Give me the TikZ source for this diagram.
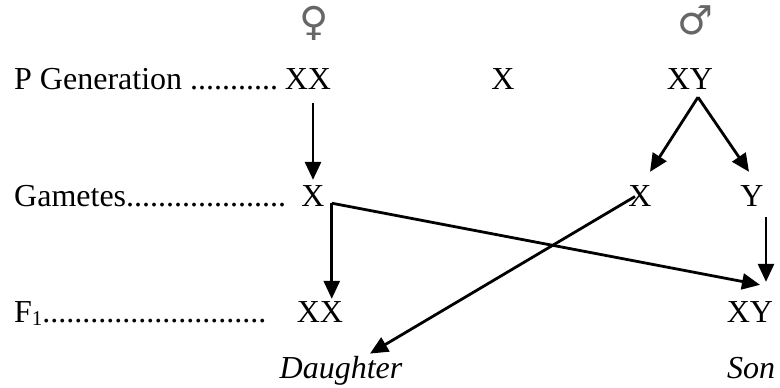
\documentclass[tikz,border=0pt]{standalone}
\usepackage{fontspec}
\setmainfont{Liberation Serif}
\newfontfamily\symfont{DejaVu Sans}
\usetikzlibrary{arrows.meta, calc}

\begin{document}
\begin{tikzpicture}[x=1pt, y=-1pt, >={Triangle[length=18pt, width=16pt]}, font=\fontsize{32}{38}\selectfont]
        \tikzstyle{gene} = [inner sep=0pt, anchor=base]
        \tikzstyle{rowlabel} = [inner sep=0pt, anchor=base west]
        \tikzstyle{sexsym} = [inner sep=0pt, text=black!60, font=\symfont\fontsize{40}{40}\selectfont]
        \tikzstyle{link} = [draw, ->, line width=2.8pt]
        \useasboundingbox (0,0) rectangle (780,388);

        % parents
        \node [sexsym] (femsym) at (314,23) {♀};
        \node [sexsym] (malesym) at (695,20) {♂};
        \node [rowlabel] (plabel) at (14,89) {P Generation ...........};
        \node [gene] (mom) at (308,89) {XX};
        \node [gene] (midx) at (503,89) {X};
        \node [gene] (dad) at (690,89) {XY};

        % gametes
        \node [rowlabel] (glabel) at (14,206) {Gametes....................};
        \node [gene] (gx) at (313,206) {X};
        \node [gene] (gmx) at (640,206) {X};
        \node [gene] (gmy) at (752,206) {Y};

        % offspring
        \node [rowlabel] (flabel) at (14,322) {F\raisebox{-0.25ex}{\fontsize{21}{21}\selectfont 1}............................};
        \node [gene] (dau) at (320,322) {XX};
        \node [gene] (son) at (750,322) {XY};
        \node [gene, font=\fontsize{32}{38}\selectfont\itshape] (daulabel) at (341,378) {Daughter};
        \node [gene, font=\fontsize{32}{38}\selectfont\itshape] (sonlabel) at (751,378) {Son};

        \coordinate (split) at ($(dad.south)+(8,8)$);
        \coordinate (fork) at ($(gx.south east)+(7,-3)$);
        \coordinate (ytop) at ($(gmy.south)+(14,11)$);

        \path [link, shorten <=14pt, shorten >=5pt] (gx.north |- mom.south) -- (gx.north);
        \path [link] (split) -- ($(gmx.north)+(10,-13)$);
        \path [link] (split) -- ($(gmy.north)+(-3,-13)$);
        \path [link, shorten >=2pt] (fork) -- (fork |- dau.north);
        \path [link] (fork) -- ($(son.north)+(10,-16)$);
        \path [link, shorten >=19pt] (ytop) -- (ytop |- son.north);
        \path [link] ($(gmx.center)+(-5,1)$) -- ($(daulabel.north)+(29,-2)$);
    \end{tikzpicture}
\end{document}
